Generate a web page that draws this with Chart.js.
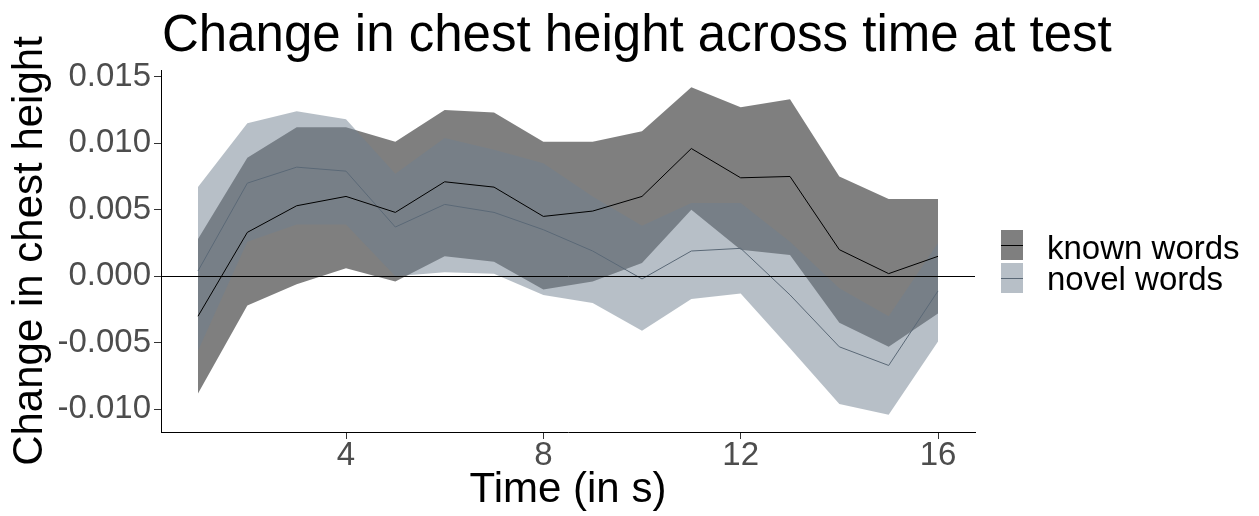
<!DOCTYPE html>
<html>
<head>
<meta charset="utf-8">
<title>Change in chest height across time at test</title>
<script src="https://cdn.jsdelivr.net/npm/chart.js@4.4.1/dist/chart.umd.min.js"></script>
<style>
  html, body { margin: 0; padding: 0; background: #fff; }
  canvas { display: block; }
</style>
</head>
<body>
<canvas id="chestChart" width="1259" height="516"></canvas>
<script>
// time points (s)
const time = [1, 2, 3, 4, 5, 6, 7, 8, 9, 10, 11, 12, 13, 14, 15, 16];

// known words: mean and ribbon
const knownMean  = [-0.0030, 0.0033, 0.0053, 0.0060, 0.0048, 0.0071, 0.0067, 0.0045, 0.0049, 0.0060, 0.0096, 0.0074, 0.0075, 0.0020, 0.0002, 0.0015];
const knownUpper = [0.0028, 0.0089, 0.0112, 0.0112, 0.0101, 0.0125, 0.0123, 0.0101, 0.0101, 0.0109, 0.0142, 0.0127, 0.0133, 0.0075, 0.0058, 0.0058];
const knownLower = [-0.0088, -0.0022, -0.0006, 0.0006, -0.0004, 0.0015, 0.0011, -0.0010, -0.0004, 0.0010, 0.0050, 0.0020, 0.0016, -0.0035, -0.0053, -0.0028];

// novel words: mean and ribbon
const novelMean  = [0.0004, 0.0070, 0.0082, 0.0079, 0.0037, 0.0054, 0.0048, 0.0035, 0.0019, -0.0002, 0.0019, 0.0021, -0.0014, -0.0053, -0.0067, -0.0011];
const novelUpper = [0.0067, 0.0115, 0.0124, 0.0118, 0.0077, 0.0104, 0.0095, 0.0085, 0.0060, 0.0038, 0.0055, 0.0055, 0.0026, -0.0009, -0.0030, 0.0025];
const novelLower = [-0.0056, 0.0026, 0.0039, 0.0039, 0.0000, 0.0003, 0.0002, -0.0014, -0.0020, -0.0041, -0.0017, -0.0013, -0.0054, -0.0096, -0.0104, -0.0049];

const seriesNames = ['known words', 'novel words'];
const titleText = 'Change in chest height across time at test';
const xTicks = [4, 8, 12, 16];
const yTicks = [-0.010, -0.005, 0.000, 0.005, 0.010, 0.015];

const FONT = '"Liberation Sans", Arial, sans-serif';
const knownFill = 'rgba(0, 0, 0, 0.5)';
const novelFill = 'rgba(112, 128, 144, 0.5)';
const knownLine = '#000000';
const novelLine = '#5a6876';

function pts(arr) {
    return time.map((t, i) => ({ x: t, y: arr[i] }));
}

// title + legend drawn on top of the chart
const overlay = {
    id: 'overlay',
    afterDraw(chart) {
        const ctx = chart.ctx;
        const area = chart.chartArea;
        ctx.save();
        ctx.fillStyle = '#000';
        ctx.textAlign = 'left';
        ctx.textBaseline = 'alphabetic';
        ctx.font = '51px ' + FONT;
        ctx.fillText(titleText, area.left + 1, 51);

        const keys = [
            { name: seriesNames[0], fill: knownFill, line: knownLine, top: 230, base: 259 },
            { name: seriesNames[1], fill: novelFill, line: novelLine, top: 263, base: 290 }
        ];
        ctx.font = '33px ' + FONT;
        keys.forEach(k => {
            ctx.fillStyle = k.fill;
            ctx.fillRect(1001, k.top, 22, 30);
            ctx.strokeStyle = k.line;
            ctx.lineWidth = 1;
            ctx.beginPath();
            ctx.moveTo(1001, k.top + 15.5);
            ctx.lineTo(1023, k.top + 15.5);
            ctx.stroke();
            ctx.fillStyle = '#000';
            ctx.fillText(k.name, 1047, k.base);
        });
        ctx.restore();
    }
};

const lineBase = { pointRadius: 0, pointHoverRadius: 0, tension: 0, fill: false };

new Chart(document.getElementById('chestChart'), {
    type: 'line',
    data: {
        datasets: [
            { ...lineBase, label: seriesNames[0], data: pts(knownMean), borderColor: knownLine, borderWidth: 1, order: 0 },
            { ...lineBase, label: seriesNames[1], data: pts(novelMean), borderColor: novelLine, borderWidth: 1, order: 0 },
            { ...lineBase, label: 'novel upper', data: pts(novelUpper), borderWidth: 0, borderColor: 'rgba(0,0,0,0)',
              backgroundColor: novelFill, fill: '+1', order: 1 },
            { ...lineBase, label: 'novel lower', data: pts(novelLower), borderWidth: 0, borderColor: 'rgba(0,0,0,0)', order: 1 },
            { ...lineBase, label: 'known upper', data: pts(knownUpper), borderWidth: 0, borderColor: 'rgba(0,0,0,0)',
              backgroundColor: knownFill, fill: '+1', order: 2 },
            { ...lineBase, label: 'known lower', data: pts(knownLower), borderWidth: 0, borderColor: 'rgba(0,0,0,0)', order: 2 }
        ]
    },
    options: {
        responsive: false,
        animation: false,
        events: [],
        layout: { padding: { top: 70, right: 284, bottom: 0, left: 0 } },
        plugins: {
            legend: { display: false },
            title: { display: false },
            tooltip: { enabled: false },
            filler: { propagate: false }
        },
        scales: {
            x: {
                type: 'linear',
                min: 0.25,
                max: 16.75,
                afterFit(scale) { scale.height = 84; },
                afterBuildTicks(scale) { scale.ticks = xTicks.map(v => ({ value: v })); },
                ticks: {
                    font: { family: FONT, size: 33 },
                    color: '#4d4d4d',
                    padding: -3,
                    maxRotation: 0,
                    autoSkip: false
                },
                grid: { drawOnChartArea: false, tickLength: 7, tickColor: '#333333', tickWidth: 1 },
                border: { display: true, color: '#000', width: 1 },
                title: {
                    display: true,
                    text: 'Time (in s)',
                    color: '#000',
                    font: { family: FONT, size: 42 },
                    padding: { top: 2, bottom: 0 }
                }
            },
            y: {
                type: 'linear',
                min: -0.0117,
                max: 0.0155,
                afterFit(scale) { scale.width = 161; },
                afterBuildTicks(scale) { scale.ticks = yTicks.map(v => ({ value: v })); },
                ticks: {
                    z: 1,
                    font: { family: FONT, size: 33 },
                    color: '#4d4d4d',
                    padding: 3,
                    autoSkip: false,
                    callback: v => (Math.abs(v) < 1e-9 ? 0 : v).toFixed(3)
                },
                // zero reference line drawn above the ribbons
                grid: {
                    z: 1,
                    tickLength: 7,
                    lineWidth: 1,
                    color: ctx => (ctx.tick && Math.abs(ctx.tick.value) < 1e-9 ? '#000' : 'rgba(0,0,0,0)'),
                    tickColor: '#333333'
                },
                border: { display: true, color: '#000', width: 1, z: 1 },
                title: {
                    display: true,
                    text: 'Change in chest height',
                    color: '#000',
                    font: { family: FONT, size: 42 },
                    padding: { top: 5, bottom: 0 }
                }
            }
        }
    },
    plugins: [overlay]
});
</script>
</body>
</html>
